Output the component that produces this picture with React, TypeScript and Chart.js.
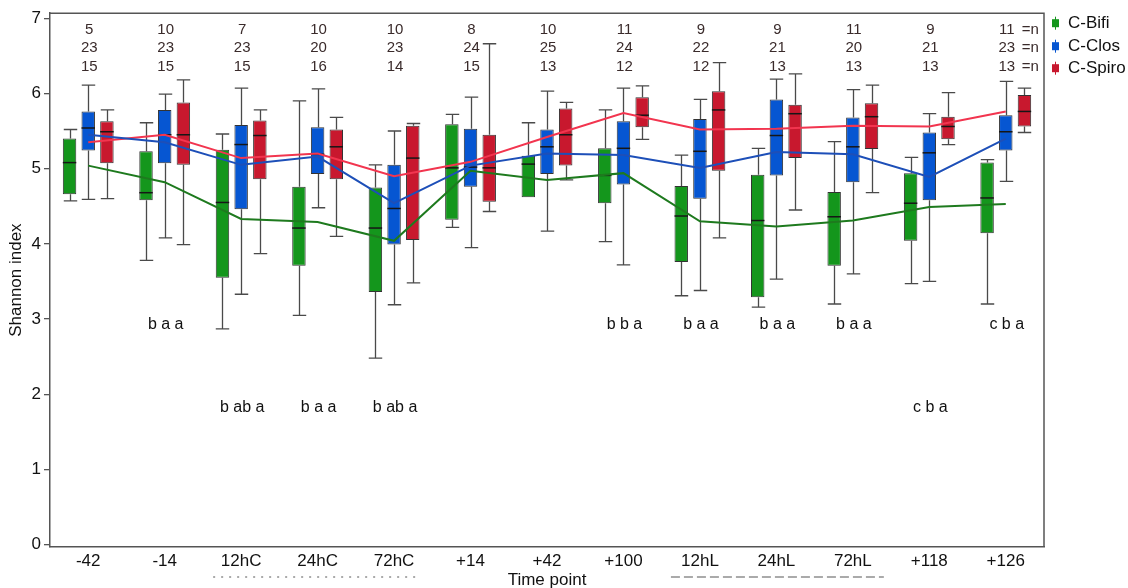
import { useEffect, useRef } from 'react';
import { Chart, registerables } from 'chart.js';

Chart.register(...registerables);

const FONT = "'Liberation Sans', Arial, Helvetica, sans-serif";

const categories = ['-42', '-14', '12hC', '24hC', '72hC', '+14', '+42', '+100', '12hL', '24hL', '72hL', '+118', '+126'];
const yTicks = [0, 1, 2, 3, 4, 5, 6, 7];
const seriesNames = ['C-Bifi', 'C-Clos', 'C-Spiro'];

// C-Bifi
const bifiMin = [4.57, 3.78, 2.87, 3.05, 2.48, 4.22, 4.62, 4.03, 3.31, 3.16, 3.20, 3.47, 3.20];
const bifiQ1 = [4.66, 4.58, 3.55, 3.71, 3.36, 4.32, 4.62, 4.54, 3.76, 3.29, 3.71, 4.04, 4.14];
const bifiMed = [5.08, 4.68, 4.55, 4.21, 4.21, 5.01, 5.06, 4.91, 4.37, 4.31, 4.36, 4.54, 4.61];
const bifiQ3 = [5.40, 5.23, 5.25, 4.76, 4.75, 5.59, 5.17, 5.27, 4.77, 4.92, 4.69, 4.94, 5.08];
const bifiMax = [5.52, 5.61, 5.46, 5.90, 5.05, 5.72, 5.61, 5.78, 5.18, 5.27, 5.36, 5.15, 5.12];
const bifiMean = [5.04, 4.82, 4.33, 4.29, 4.04, 4.97, 4.85, 4.94, 4.30, 4.23, 4.31, 4.49, 4.53];

// C-Clos
const closMin = [4.59, 4.08, 3.33, 4.48, 3.19, 3.95, 4.17, 3.72, 3.38, 3.53, 3.60, 3.50, 4.83];
const closQ1 = [5.24, 5.07, 4.46, 4.93, 3.99, 4.76, 4.93, 4.79, 4.60, 4.91, 4.82, 4.58, 5.24];
const closMed = [5.54, 5.45, 5.32, 5.19, 4.47, 5.02, 5.29, 5.27, 5.23, 5.44, 5.29, 5.21, 5.49];
const closQ3 = [5.76, 5.78, 5.58, 5.55, 5.05, 5.53, 5.52, 5.63, 5.66, 5.92, 5.68, 5.48, 5.71];
const closMax = [6.11, 5.99, 6.07, 6.06, 5.50, 5.95, 6.03, 6.07, 5.92, 6.19, 6.05, 5.73, 6.16];
const closMean = [5.45, 5.35, 5.05, 5.16, 4.54, 5.04, 5.20, 5.18, 5.01, 5.22, 5.19, 4.89, 5.40];

// C-Spiro
const spiroMin = [4.60, 3.99, 3.87, 4.10, 3.48, 4.43, 4.85, 5.39, 4.08, 4.45, 4.68, 5.32, 5.48];
const spiroQ1 = [5.07, 5.05, 4.86, 4.86, 4.05, 4.56, 5.04, 5.55, 4.97, 5.14, 5.26, 5.39, 5.56];
const spiroMed = [5.49, 5.45, 5.44, 5.29, 5.14, 5.01, 5.45, 5.71, 5.78, 5.73, 5.69, 5.56, 5.76];
const spiroQ3 = [5.63, 5.88, 5.64, 5.52, 5.57, 5.45, 5.80, 5.95, 6.03, 5.85, 5.87, 5.69, 5.98];
const spiroMax = [5.78, 6.18, 5.78, 5.68, 5.60, 6.66, 5.88, 6.10, 6.41, 6.26, 6.11, 6.01, 6.07];
const spiroMean = [5.35, 5.45, 5.14, 5.20, 4.90, 5.09, 5.42, 5.74, 5.52, 5.53, 5.57, 5.56, 5.76];

// sample sizes
const nBifi = [5, 10, 7, 10, 10, 8, 10, 11, 9, 9, 11, 9, 11];
const nClos = [23, 23, 23, 20, 23, 24, 25, 24, 22, 21, 20, 21, 23];
const nSpiro = [15, 15, 15, 16, 14, 15, 13, 12, 12, 13, 13, 13, 13];

// significance letters
const lettersHigh = ['', 'b a a', '', '', '', '', '', 'b b a', 'b a a', 'b a a', 'b a a', '', 'c b a'];
const lettersLow = ['', '', 'b ab a', 'b a a', 'b ab a', '', '', '', '', '', '', 'c b a', ''];
const lettersHighY = 2.93;
const lettersLowY = 1.82;

const boxColors = ['#14961c', '#0656d2', '#c8182e'];
const lineColors = ['#1e7a1e', '#1d4fb8', '#f2354f'];

const boxStats = [
  { min: bifiMin, q1: bifiQ1, med: bifiMed, q3: bifiQ3, max: bifiMax },
  { min: closMin, q1: closQ1, med: closMed, q3: closQ3, max: closMax },
  { min: spiroMin, q1: spiroQ1, med: spiroMed, q3: spiroQ3, max: spiroMax },
];
const means = [bifiMean, closMean, spiroMean];
const nRows = [nBifi, nClos, nSpiro];

const extrasPlugin = {
  id: 'boxExtras',
  beforeDatasetsDraw(chart: any) {
    const ctx = chart.ctx;
    const y = chart.scales.y;
    ctx.save();
    ctx.strokeStyle = '#4a4a4a';
    ctx.lineWidth = 1.3;
    boxStats.forEach((s, di) => {
      const meta = chart.getDatasetMeta(di);
      meta.data.forEach((bar: any, j: number) => {
        const x = Math.round(bar.x) + 0.5;
        const hw = bar.width / 2;
        const pMin = y.getPixelForValue(s.min[j]);
        const pQ1 = y.getPixelForValue(s.q1[j]);
        const pQ3 = y.getPixelForValue(s.q3[j]);
        const pMax = y.getPixelForValue(s.max[j]);
        ctx.beginPath();
        if (s.max[j] > s.q3[j]) {
          ctx.moveTo(x, pQ3);
          ctx.lineTo(x, pMax);
          ctx.moveTo(x - hw, pMax);
          ctx.lineTo(x + hw, pMax);
        }
        if (s.min[j] < s.q1[j]) {
          ctx.moveTo(x, pQ1);
          ctx.lineTo(x, pMin);
          ctx.moveTo(x - hw, pMin);
          ctx.lineTo(x + hw, pMin);
        }
        ctx.stroke();
      });
    });
    ctx.restore();
  },
  afterDatasetDraw(chart: any, args: any) {
    if (args.index > 2) return;
    const s = boxStats[args.index];
    const ctx = chart.ctx;
    const y = chart.scales.y;
    ctx.save();
    ctx.strokeStyle = '#161616';
    ctx.lineWidth = 1.5;
    args.meta.data.forEach((bar: any, j: number) => {
      const hw = bar.width / 2;
      const p = y.getPixelForValue(s.med[j]);
      ctx.beginPath();
      ctx.moveTo(bar.x - hw, p);
      ctx.lineTo(bar.x + hw, p);
      ctx.stroke();
    });
    ctx.restore();
  },
  afterDraw(chart: any) {
    const ctx = chart.ctx;
    const { left, right, top, bottom } = chart.chartArea;
    const x = chart.scales.x;
    const y = chart.scales.y;
    ctx.save();
    // frame top & right
    ctx.strokeStyle = '#555';
    ctx.lineWidth = 1.5;
    ctx.beginPath();
    ctx.moveTo(left, top);
    ctx.lineTo(right, top);
    ctx.lineTo(right, bottom);
    ctx.stroke();

    // sample sizes
    ctx.font = `15px ${FONT}`;
    ctx.fillStyle = '#3a2b2b';
    ctx.textBaseline = 'middle';
    const rowOffsets = [16.5, 35, 53.5];
    categories.forEach((_, i) => {
      const cx = x.getPixelForValue(i);
      nRows.forEach((row, r) => {
        ctx.textAlign = 'center';
        ctx.fillText(String(row[i]), cx + 1, top + rowOffsets[r]);
        if (i === categories.length - 1) {
          ctx.textAlign = 'left';
          ctx.fillText('=n', cx + 16, top + rowOffsets[r]);
        }
      });
    });

    // letters
    ctx.font = `16px ${FONT}`;
    ctx.fillStyle = '#111';
    ctx.textAlign = 'center';
    categories.forEach((_, i) => {
      const cx = x.getPixelForValue(i);
      if (lettersHigh[i]) ctx.fillText(lettersHigh[i], cx + 1, y.getPixelForValue(lettersHighY));
      if (lettersLow[i]) ctx.fillText(lettersLow[i], cx + 1, y.getPixelForValue(lettersLowY));
    });

    // underline groups
    const uy = 577;
    ctx.strokeStyle = '#aaaaaa';
    ctx.lineWidth = 2;
    ctx.setLineDash([2, 6]);
    ctx.beginPath();
    ctx.moveTo(x.getPixelForValue(2) - 28, uy);
    ctx.lineTo(x.getPixelForValue(4) + 24, uy);
    ctx.stroke();
    ctx.setLineDash([9, 4]);
    ctx.beginPath();
    ctx.moveTo(x.getPixelForValue(8) - 29, uy);
    ctx.lineTo(x.getPixelForValue(10) + 31, uy);
    ctx.stroke();
    ctx.setLineDash([]);

    // legend
    ctx.font = `17px ${FONT}`;
    ctx.textAlign = 'left';
    const legY = [top + 10, top + 33, top + 55];
    seriesNames.forEach((name, k) => {
      const ly = legY[k];
      const ix = right + 8;
      ctx.strokeStyle = boxColors[k];
      ctx.lineWidth = 1;
      ctx.beginPath();
      ctx.moveTo(ix + 3.5, ly - 6.5);
      ctx.lineTo(ix + 3.5, ly + 6.5);
      ctx.stroke();
      ctx.fillStyle = boxColors[k];
      ctx.fillRect(ix, ly - 4, 7, 8);
      ctx.fillStyle = '#111';
      ctx.fillText(name, right + 24, ly);
    });
    ctx.restore();
  },
};

export default function App() {
  const ref = useRef<HTMLCanvasElement>(null);
  useEffect(() => {
    document.body.style.margin = '0';
    const barSets = boxStats.map((s, k) => ({
      type: 'bar' as const,
      label: seriesNames[k],
      data: s.q1.map((v, i) => [v, s.q3[i]]),
      backgroundColor: boxColors[k],
      borderColor: '#333',
      borderWidth: 1,
      borderSkipped: false,
      barPercentage: 0.72,
      categoryPercentage: 0.733,
      order: 2,
    }));
    const lineSets = means.map((m, k) => ({
      type: 'line' as const,
      label: seriesNames[k] + ' mean',
      data: m,
      borderColor: lineColors[k],
      borderWidth: 2,
      pointRadius: 0,
      tension: 0,
      fill: false,
      order: 1,
    }));
    const chart = new Chart(ref.current!, {
      type: 'bar',
      data: { labels: categories, datasets: [...barSets, ...lineSets] as any },
      options: {
        animation: false,
        responsive: true,
        maintainAspectRatio: false,
        layout: { padding: { top: 13, right: 84, bottom: 0, left: 0 } },
        plugins: { legend: { display: false }, tooltip: { enabled: false } },
        scales: {
          x: {
            type: 'category',
            offset: true,
            grid: { display: false, drawTicks: false },
            border: { display: true, color: '#555', width: 1.5 },
            ticks: { font: { family: FONT, size: 17 }, color: '#111', padding: 4, maxRotation: 0, autoSkip: false },
            title: { display: true, text: 'Time point', font: { family: FONT, size: 17 }, color: '#111', padding: { top: 0, bottom: -3 } },
            afterFit: (s: any) => { s.height = 41; },
          },
          y: {
            type: 'linear',
            min: -0.03,
            max: 7.066,
            afterBuildTicks: (s: any) => { s.ticks = yTicks.map((v) => ({ value: v })); },
            grid: { drawOnChartArea: false, drawTicks: true, tickLength: 6, color: '#555', lineWidth: 1.3 },
            border: { display: true, color: '#555', width: 1.5 },
            ticks: { font: { family: FONT, size: 17 }, color: '#111', padding: 3 },
            title: { display: true, text: 'Shannon index', font: { family: FONT, size: 17 }, color: '#111', padding: { top: 6, bottom: 0 } },
            afterFit: (s: any) => { s.width = 50; },
          },
        },
      },
      plugins: [extrasPlugin],
    });
    return () => chart.destroy();
  }, []);
  return (
    <div style={{ position: 'relative', width: 1128, height: 588 }}>
      <canvas ref={ref} />
    </div>
  );
}
